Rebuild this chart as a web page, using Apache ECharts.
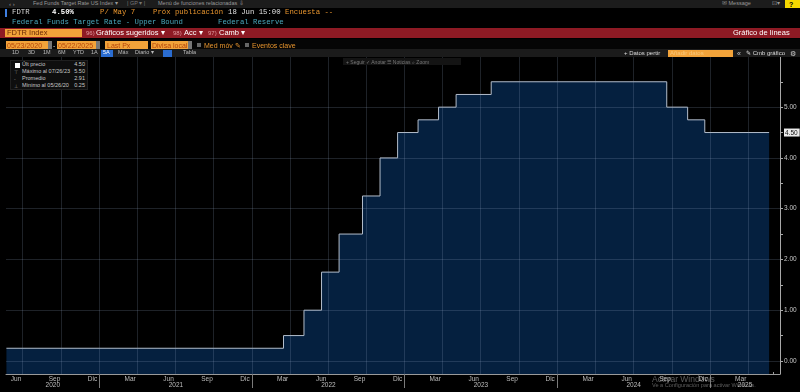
<!DOCTYPE html>
<html><head><meta charset="utf-8">
<script src="https://cdn.jsdelivr.net/npm/echarts@6/dist/echarts.min.js"></script>
<style>
html,body{margin:0;padding:0;background:#000;width:800px;height:392px;overflow:hidden;}
#chart{position:absolute;left:0;top:0;width:800px;height:392px;}
#ui{position:absolute;left:0;top:0;width:800px;height:392px;pointer-events:none;font-family:"Liberation Sans",Arial,sans-serif;}
.t{position:absolute;white-space:nowrap;line-height:1;transform:translateY(-50%);}
.b{position:absolute;}
</style></head><body>
<div id="chart"></div>
<div id="ui"></div>
<script>
// ---- data ----
const rateChangeDates = ['2020-05-23','2022-03-17','2022-05-05','2022-06-16','2022-07-28','2022-09-22','2022-11-03','2022-12-15','2023-02-02','2023-03-23','2023-05-04','2023-07-27','2024-09-19','2024-11-08','2024-12-19','2025-05-22'];
const rateValues = [0.25,0.50,1.00,1.75,2.50,3.25,4.00,4.50,4.75,5.00,5.25,5.50,5.00,4.75,4.50,4.50];
const lastValue = 4.50;
const yLabelValues = [0,1,2,3,4,5];
const yMinorTicks = [0,0.5,1,1.5,2,2.5,3,3.5,4,4.5,5,5.5];
const monthLabelNames = ['Jun','Sep','Dic','Mar','Jun','Sep','Dic','Mar','Jun','Sep','Dic','Mar','Jun','Sep','Dic','Mar','Jun','Sep','Dic','Mar'];
const monthLabelDates = ['2020-06-15','2020-09-15','2020-12-15','2021-03-15','2021-06-15','2021-09-15','2021-12-15','2022-03-15','2022-06-15','2022-09-15','2022-12-15','2023-03-15','2023-06-15','2023-09-15','2023-12-15','2024-03-15','2024-06-15','2024-09-15','2024-12-15','2025-03-15'];
const yearLabels = ['2020','2021','2022','2023','2024','2025'];
const gridQuarterDates = ['2020-07-01','2020-10-01','2021-01-01','2021-04-01','2021-07-01','2021-10-01','2022-01-01','2022-04-01','2022-07-01','2022-10-01','2023-01-01','2023-04-01','2023-07-01','2023-10-01','2024-01-01','2024-04-01','2024-07-01','2024-10-01','2025-01-01','2025-04-01'];
const axisStart = '2020-05-22';
const axisEnd = '2025-06-17';
const legendNames = ['Últ precio','Máximo al 07/26/23','Promedio','Mínimo al 05/26/20'];
const legendValues = ['4.50','5.50','2.91','0.25'];

// ---- helpers ----
function ts(s){const p=s.split('-').map(Number);return Date.UTC(p[0],p[1]-1,p[2]);}
const xMin = ts(axisStart), xMax = ts(axisEnd);
const monthTickValues = [];
for(let y=2020;y<=2025;y++){for(let m=0;m<12;m++){const v=Date.UTC(y,m,1);if(v>xMin&&v<xMax)monthTickValues.push(v);}}
const yearStarts = yearLabels.slice(1).map(y=>Date.UTC(+y,0,1));
const yearMids = yearLabels.map(y=>{const a=Math.max(Date.UTC(+y,0,1),xMin),b=Math.min(Date.UTC(+y+1,0,1),xMax);return (a+b)/2;});
const monthLabelTs = monthLabelDates.map(ts);

const chart = echarts.init(document.getElementById('chart'), null, {renderer:'canvas'});
chart.setOption({
  backgroundColor:'#000',
  animation:false,
  grid:{left:6,right:20,top:57,bottom:18,containLabel:false,outerBoundsMode:'none'},
  xAxis:[{
    type:'value', min:xMin, max:xMax, position:'bottom', scale:true,
    axisLine:{show:true,onZero:false,lineStyle:{color:'#9a9a9a',width:1}},
    axisTick:{show:true,customValues:monthTickValues,length:2,inside:true,lineStyle:{color:'#9a9a9a'}},
    axisLabel:{show:true,customValues:monthLabelTs,margin:2,fontSize:6.5,color:'#bdbdbd',fontFamily:'Liberation Sans',
      formatter:function(v){const i=monthLabelTs.indexOf(v);return i>=0?monthLabelNames[i]:'';}},
    splitLine:{show:false}
  },{
    type:'value', min:xMin, max:xMax, position:'bottom', offset:0, scale:true,
    axisLine:{show:false,onZero:false},
    axisTick:{show:true,customValues:yearStarts,length:14,lineStyle:{color:'#7a7a7a'}},
    axisLabel:{show:true,customValues:yearMids,margin:8,fontSize:6.5,color:'#bdbdbd',fontFamily:'Liberation Sans',
      formatter:function(v){const i=yearMids.indexOf(v);return i>=0?yearLabels[i]:'';}},
    splitLine:{show:false}
  }],
  yAxis:{
    type:'value', position:'right', min:-0.257, max:5.988,
    axisLine:{show:true,lineStyle:{color:'#a8a8a8',width:1}},
    axisTick:{show:true,customValues:yMinorTicks,length:3,lineStyle:{color:'#a8a8a8'}},
    axisLabel:{show:true,customValues:yLabelValues.concat([lastValue]),margin:4,fontSize:6.5,color:'#c8c8c8',fontFamily:'Liberation Sans',
      formatter:function(v){return v===lastValue?'{box|'+v.toFixed(2)+'}':v.toFixed(2);},
      rich:{box:{backgroundColor:'#ececec',color:'#111',fontSize:6.5,padding:[1,2,0,1],fontFamily:'Liberation Sans'}}},
    splitLine:{show:false}
  },
  series:[{
    type:'line', step:'end', symbol:'none', xAxisIndex:0,
    data:rateChangeDates.map((d,i)=>[ts(d),rateValues[i]]),
    lineStyle:{color:'#b3bdcb',width:1},
    areaStyle:{color:'#05203f',opacity:1,origin:'start'},
    markLine:{silent:true,symbol:'none',label:{show:false},
      lineStyle:{color:'rgba(150,170,200,0.2)',width:1,type:'solid'},
      emphasis:{disabled:true},
      data:gridQuarterDates.map(d=>({xAxis:ts(d)})).concat(yLabelValues.map(v=>({yAxis:v})))}
  }]
});

// ---- terminal UI text ----
const ui=document.getElementById('ui');
function T(x,y,txt,css){const d=document.createElement('div');d.className='t';d.textContent=txt;d.style.cssText+='left:'+x+'px;top:'+y+'px;'+(css||'');ui.appendChild(d);return d;}
function B(x,y,w,h,bg,css){const d=document.createElement('div');d.className='b';d.style.cssText+='left:'+x+'px;top:'+y+'px;width:'+w+'px;height:'+h+'px;background:'+bg+';'+(css||'');ui.appendChild(d);return d;}
const mono='font-family:"Liberation Mono","DejaVu Sans Mono",monospace;font-size:7.3px;';
const org='#e8952e';
// row 0
B(0,0,800,8,'#1c1c1c');
T(9,4,'‹   ›','font-size:6px;color:#999;');
T(33,4,'Fed Funds Target Rate US Index ▾','font-size:5.5px;color:#9a9a9a;');
T(127,4,'|   GP ▾   |','font-size:5.5px;color:#777;');
T(158,4,'Menú de funciones relacionadas ⇩','font-size:5.5px;color:#9a9a9a;');
T(722,4,'✉ Message','font-size:5.5px;color:#9a9a9a;');
T(772,4,'⊡▾','font-size:5.5px;color:#9a9a9a;');
B(785,0,15,8,'#f5d800');
T(789,4,'?','font-size:7px;color:#000;font-weight:bold;');
// row 1
B(5,9,2,8,'#3f7fe0');
T(12,13,'FDTR',mono+'color:#d8d8d8;');
T(52,13,'4.50%',mono+'color:#fff;font-weight:bold;');
T(100,13,'P/ May 7',mono+'color:'+org+';');
T(153,13,'Próx publicación',mono+'color:'+org+';');
T(228,13,'18 Jun 15:00',mono+'color:#e0e0e0;');
T(285,13,'Encuesta --',mono+'color:'+org+';');
// row 2
T(12,23,'Federal Funds Target Rate - Upper Bound',mono+'color:#4aa8bd;');
T(218,23,'Federal Reserve',mono+'color:#4aa8bd;');
// row 3
B(0,28,800,10,'#8e1a24');
B(5,29,77,8,'#f2a33a');
T(7,33,'FDTR Index','font-size:7.5px;color:#6b2a05;');
T(86,33,'96)','font-size:6px;color:#e09aa0;');
T(96,33,'Gráficos sugeridos ▾','font-size:7.5px;color:#fff;');
T(173,33,'98)','font-size:6px;color:#e09aa0;');
T(184,33,'Acc ▾','font-size:7.5px;color:#fff;');
T(208,33,'97)','font-size:6px;color:#e09aa0;');
T(219,33,'Camb ▾','font-size:7.5px;color:#fff;');
T(733,33,'Gráfico de líneas','font-size:7.5px;color:#fff;');
// row 4
B(0,39,800,10,'#050505');
B(6,41,42,8,'#f2a33a'); T(7,45,'05/23/2020','font-size:7px;color:#b5430a;');
B(48,41,4,8,'#777');
T(53,45,'-','font-size:7px;color:#ccc;');
B(57,41,39,8,'#f2a33a'); T(58,45,'05/22/2025','font-size:7px;color:#b5430a;');
B(96,41,4,8,'#777');
B(105,41,43,8,'#f2a33a'); T(107,45,'Last Px','font-size:7px;color:#b5430a;');
B(151,41,37,8,'#f2a33a'); T(152,45,'Divisa local','font-size:7px;color:#b5430a;');
B(188,41,4,8,'#777');
B(197,43,4,4,'#666'); T(204,45,'Med móv ✎','font-size:7px;color:'+org+';');
B(245,43,4,4,'#666'); T(252,45,'Eventos clave','font-size:7px;color:'+org+';');
// row 5
B(0,49,800,8,'#1b1b1b');
const r5=[['1D',12],['3D',28],['1M',43],['6M',58],['YTD',73],['1A',91],['Máx',118],['Diario ▾',135],['Tabla',183]];
r5.forEach(r=>T(r[1],53,r[0],'font-size:5.5px;color:#bbb;'));
B(101,50,12,7,'#2a6cd0'); T(103,53,'5A','font-size:5.5px;color:#fff;');
B(163,50,9,7,'#2a6cd0');
T(624,53,'+ Datos pertir','font-size:6px;color:#ddd;');
B(668,50,65,7,'#f2a33a'); T(670,53,'Añadir datos','font-size:6px;color:#f8c77a;');
T(737,53,'«','font-size:7px;color:#ccc;');
T(746,53,'✎ Cmb gráfico','font-size:6px;color:#ddd;');
T(790,53,'⚙','font-size:7px;color:#ccc;');
// chart toolbar
B(343,58,118,7,'#141414');
T(346,61.5,'+ Seguir    ✓ Anotar    ☰ Noticias    ⌕ Zoom','font-size:5px;color:#777;');
// legend box
B(10,60,78,30,'#0e0e0e','border:1px solid #1f1f1f;box-sizing:border-box;');
B(15,63,5,5,'#fff');
const legY=[65,72,79,86];
const legIco=['','⊤','-','⊥'];
legendNames.forEach((n,i)=>{
  if(legIco[i])T(14,legY[i],legIco[i],'font-size:5px;color:#888;');
  T(22,legY[i],n,'font-size:5.5px;color:#c8c8c8;');
  const d=T(85,legY[i],legendValues[i],'font-size:5.5px;color:#c8c8c8;');
  d.style.transform='translate(-100%,-50%)';
});
// watermark
T(652,379,'Activar Windows','font-size:8.5px;color:rgba(200,200,200,0.45);');
T(652,386,'Ve a Configuración para activar Windows.','font-size:5.6px;color:rgba(200,200,200,0.45);');
</script>
</body></html>
